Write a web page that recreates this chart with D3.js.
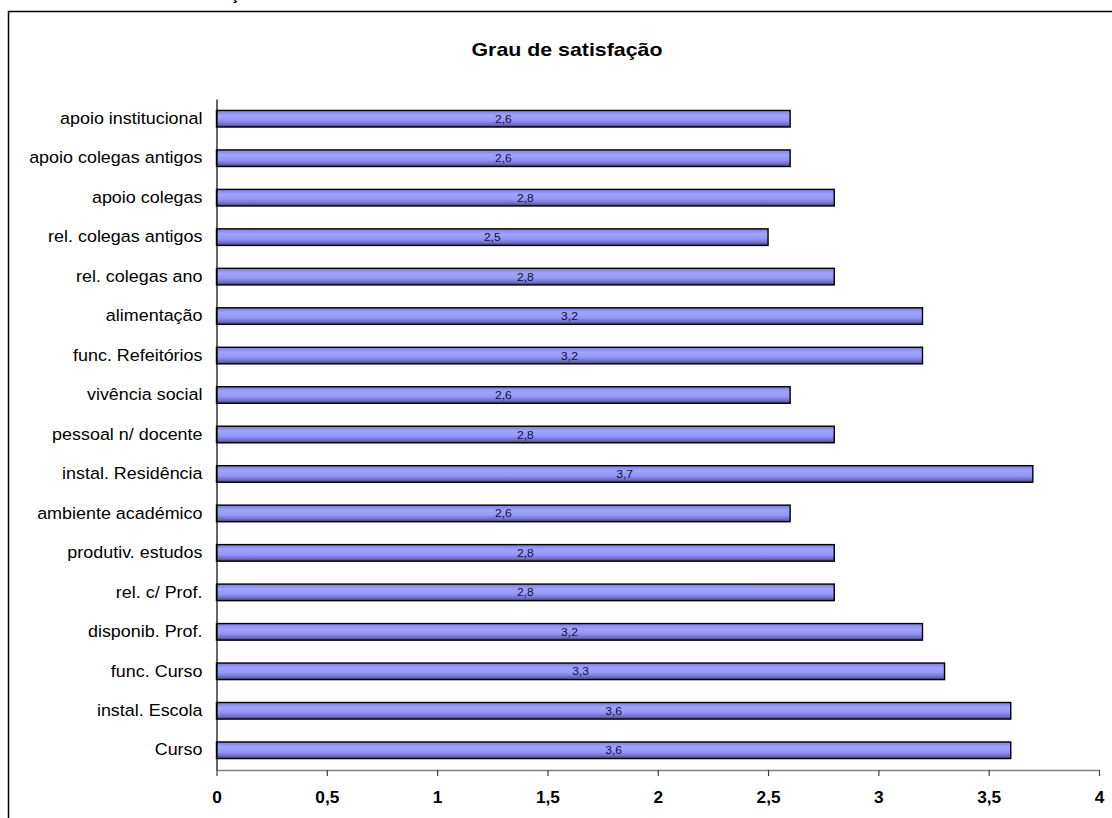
<!DOCTYPE html>
<html>
<head>
<meta charset="utf-8">
<script src="https://cdn.jsdelivr.net/npm/d3@7"></script>
<style>
  html, body { margin: 0; padding: 0; background: #fff; }
  svg { display: block; font-family: Arial, "Liberation Sans", sans-serif; }
</style>
</head>
<body>
<svg id="chart" width="1112" height="818"></svg>
<script>
// chart data
const categories = [
  "apoio institucional",
  "apoio colegas antigos",
  "apoio colegas",
  "rel. colegas antigos",
  "rel. colegas ano",
  "alimentação",
  "func. Refeitórios",
  "vivência social",
  "pessoal n/ docente",
  "instal. Residência",
  "ambiente académico",
  "produtiv. estudos",
  "rel. c/ Prof.",
  "disponib. Prof.",
  "func. Curso",
  "instal. Escola",
  "Curso",
];
const values = [2.6, 2.6, 2.8, 2.5, 2.8, 3.2, 3.2, 2.6, 2.8, 3.7, 2.6, 2.8, 2.8, 3.2, 3.3, 3.6, 3.6];
const xTicks = [0, 0.5, 1, 1.5, 2, 2.5, 3, 3.5, 4];
const title = "Grau de satisfação";

const svg = d3.select("#chart");
const fmt = (v) => String(v).replace(".", ",");

// outer frame (runs off the bottom and right of the picture)
svg.append("rect")
  .attr("x", 8.5).attr("y", 11.5)
  .attr("width", 1120).attr("height", 830)
  .attr("fill", "none").attr("stroke", "#000").attr("stroke-width", 1.5);

// fragment of text cut off above the frame, as in the source
svg.append("text")
  .attr("x", 235).attr("y", 0)
  .attr("text-anchor", "middle")
  .attr("font-weight", "bold").attr("font-size", 17)
  .text("ç");

const x = d3.scaleLinear().domain([0, 4]).range([216.5, 1099]);
const y = d3.scaleBand().domain(categories).range([99, 770])
  .paddingInner(0.58).paddingOuter(0.29);

// gradient for the bars
const grad = svg.append("defs").append("linearGradient")
  .attr("id", "barGrad").attr("x1", 0).attr("y1", 0).attr("x2", 0).attr("y2", 1);
[[0, "#7e7ee0"], [0.3, "#a2a2ff"], [0.6, "#9696f8"], [0.85, "#6c6cc0"], [1, "#3c3c80"]]
  .forEach(([o, c]) => grad.append("stop").attr("offset", o).attr("stop-color", c));

// title
svg.append("text")
  .attr("transform", "translate(567,56) scale(1.22,1)")
  .attr("text-anchor", "middle")
  .attr("font-weight", "bold").attr("font-size", 17.5)
  .text(title);

// bars
const rows = categories.map((c, i) => ({ cat: c, val: values[i] }));
svg.append("g").selectAll("rect").data(rows).join("rect")
  .attr("x", x(0))
  .attr("y", (d) => y(d.cat))
  .attr("width", (d) => x(d.val) - x(0))
  .attr("height", y.bandwidth())
  .attr("fill", "url(#barGrad)")
  .attr("stroke", "#000").attr("stroke-width", 1.4);

// value labels inside the bars
svg.append("g").selectAll("text").data(rows).join("text")
  .attr("transform", (d) => `translate(${(x(0) + x(d.val)) / 2},${y(d.cat) + y.bandwidth() / 2 + 4}) scale(1.1,1)`)
  .attr("text-anchor", "middle")
  .attr("font-size", 11)
  .attr("fill", "#10103a")
  .text((d) => fmt(d.val));

// category axis
const yAxis = svg.append("g").attr("transform", `translate(${x(0)},0)`)
  .call(d3.axisLeft(y).tickSize(0).tickPadding(14));
yAxis.select(".domain").attr("stroke", "#000").attr("stroke-width", 1.2);
yAxis.selectAll("text")
  .attr("font-size", 16.3)
  .attr("fill", "#000")
  .attr("font-family", "Arial, 'Liberation Sans', sans-serif")
  .attr("transform", "scale(1.1,1)")
  .attr("x", -14 / 1.1);

// value axis
const xAxis = svg.append("g").attr("transform", "translate(0,770)")
  .call(d3.axisBottom(x).tickValues(xTicks).tickSize(6).tickSizeOuter(0).tickPadding(14).tickFormat(fmt));
xAxis.select(".domain").attr("stroke", "#808080").attr("stroke-width", 1.5);
xAxis.selectAll(".tick line").attr("stroke", "#404040").attr("stroke-width", 1.2);
xAxis.selectAll(".tick text")
  .attr("font-size", 16)
  .attr("font-weight", "bold")
  .attr("fill", "#000")
  .attr("font-family", "Arial, 'Liberation Sans', sans-serif")
  .attr("dy", null)
  .attr("y", 0)
  .attr("transform", "translate(0,33) scale(1.08,1)");
</script>
</body>
</html>
